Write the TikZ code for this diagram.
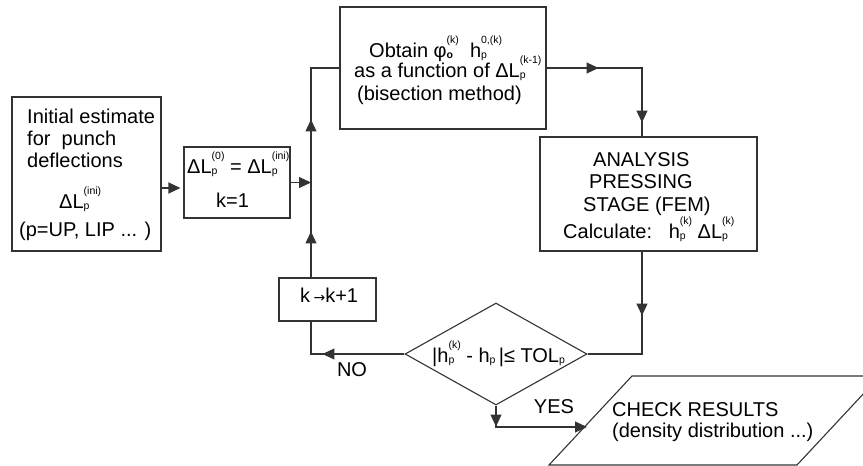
\documentclass[tikz,border=0pt]{standalone}
\usepackage{fontspec}
\setmainfont{Liberation Sans}
\newfontfamily\dejavu{DejaVu Sans}
\usetikzlibrary{arrows.meta,shapes.geometric,decorations.markings}
\newcommand\SupSub[2]{{\fontsize{10.5}{10.5}\selectfont
  \sbox0{#1}\sbox2{#2}%
  \ifdim\wd0>\wd2 \dimen0=\wd0 \else \dimen0=\wd2 \fi
  \rlap{\raisebox{-1pt}{\usebox0}}\rlap{\raisebox{13.5pt}{\usebox2}}\hspace{\dimen0}}}
\begin{document}
\begin{tikzpicture}[x=1pt,y=-1pt,
  every node/.style={inner sep=0pt, font=\fontsize{20}{22}\selectfont},
  box/.style={draw=black!80, line width=1.1pt, inner sep=0pt},
  txt/.style={anchor=base west},
  lnk/.style={draw=black!80, line width=1.1pt},
  tip/.style={-{Triangle[length=12pt,width=11pt]}},
  midtip/.style={postaction={decorate,decoration={markings,mark=at position #1 with {\arrow{Triangle[length=12pt,width=11pt]}}}}}]
\useasboundingbox (0,0) rectangle (863,466);
\clip (0,0) rectangle (863,466);
% boxes
\node[box, minimum width=149pt, minimum height=154pt] (b1) at (86.5,174) {};
\node[box, minimum width=106pt, minimum height=71pt] (b2) at (237,182.5) {};
\node[box, minimum width=206pt, minimum height=122pt] (b3) at (443,68) {};
\node[box, minimum width=217pt, minimum height=114pt] (b4) at (648.5,194) {};
\node[box, diamond, minimum width=182pt, minimum height=102pt] (dia) at (496,354) {};
\node[box, minimum width=97pt, minimum height=43pt] (bk) at (327.5,299.5) {};
\draw[box] (632,376) -- (880,376) -- (797,465) -- (549,465) -- cycle;
\coordinate (cr) at (587,427);
\coordinate (j1) at (311,182.5);
% texts
\node[txt] (t1a) at (27,123) {Initial estimate};
\node[txt] (t1b) at (27,145) {for\ \ punch};
\node[txt] (t1c) at (27,167) {deflections};
\node[txt] (t1d) at (59,208) {ΔL\SupSub{p}{(ini)}};
\node[txt] (t1e) at (19,236) {(p=UP, LIP ... )};
\node[txt] (t2a) at (187,173) {ΔL\SupSub{p}{(0)} = ΔL\SupSub{p}{(ini)}};
\node[anchor=base] (t2b) at (232.5,207) {k=1};
\node[txt] (t3a) at (369,57) {Obtain φ\SupSub{\textbf{o}}{(k)}\ \ h\SupSub{p}{0,(k)}};
\node[txt] (t3b) at (354,77) {as a function of ΔL\SupSub{p}{(k-1)}};
\node[txt] (t3c) at (357,100) {(bisection method)};
\node[txt] (t4a) at (593,166) {ANALYSIS};
\node[txt] (t4b) at (589,188) {PRESSING};
\node[txt] (t4c) at (583,211) {STAGE (FEM)};
\node[txt] (t4d) at (563,238) {Calculate:\ \ \ h\SupSub{p}{(k)} ΔL\SupSub{p}{(k)}};
\node[txt] (td) at (432,362) {|h\SupSub{p}{(k)} - h\SupSub{p}{}\,|≤ TOL\SupSub{p}{}};
\node[txt] (tk) at (300,302) {k\,{\dejavu\fontsize{14}{14}\selectfont →}k+1};
\node[anchor=base] (tno) at (352,376) {NO};
\node[anchor=base] (tyes) at (554,413) {YES};
\node[txt] (tc1) at (612,416) {CHECK RESULTS};
\node[txt] (tc2) at (612,437) {(density distribution ...)};
% connectors
\draw[lnk, tip, shorten >=3pt] ([yshift=-14pt]b1.east) -- ([yshift=-5.5pt]b2.west);
\draw[lnk, tip] (b2.east) -- (j1);
\draw[lnk, midtip=82pt] (dia.west) -| ([xshift=-16.5pt]bk.south);
\draw[lnk, midtip=46pt, midtip=158pt] ([xshift=-16.5pt]bk.north) |- (b3.west);
\draw[lnk, midtip=52pt, midtip=150pt] (b3.east) -| ([xshift=-6.5pt]b4.north);
\draw[lnk, midtip=64pt] ([xshift=-6.5pt]b4.south) |- (dia.east);
\draw[lnk, tip, midtip=21pt] (dia.south) |- (cr);
\end{tikzpicture}
\end{document}
